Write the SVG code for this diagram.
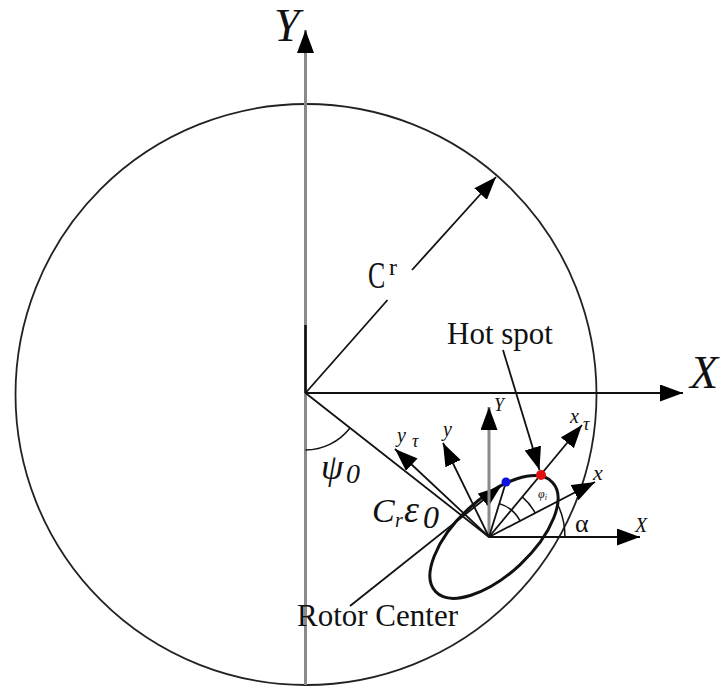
<svg xmlns="http://www.w3.org/2000/svg" width="721" height="689" viewBox="0 0 721 689">
<style>
.ln{stroke:#111;stroke-width:1.8;fill:none}
.gy{stroke:#8a8a8a;stroke-width:3;fill:none}
.th{stroke:#111;stroke-width:3;fill:none}
.arc{stroke:#111;stroke-width:1.5;fill:none}
.t{font-family:"Liberation Serif","Times New Roman",serif;fill:#111}
.i{font-style:italic}
</style>
<defs>
<marker id="ah" markerUnits="userSpaceOnUse" markerWidth="24" markerHeight="18" refX="23" refY="8.5" orient="auto">
<path d="M0,0 L23,8.5 L0,17 Z" fill="#000"/>
</marker>
</defs>
<rect width="721" height="689" fill="#fff"/>
<g id="bearing">
<circle cx="306" cy="394.5" r="290.5" fill="none" stroke="#222" stroke-width="1.8"/>
</g>
<g id="orbit">
<ellipse cx="494" cy="537" rx="80" ry="38" transform="rotate(-43 494 537)" class="th"/>
</g>
<g id="connectors">
<line class="gy" x1="305.5" y1="685" x2="305.5" y2="30" marker-end="url(#ah)"/>
<line x1="305.5" y1="325" x2="305.5" y2="393" stroke="#111" stroke-width="2.5"/>
<line class="ln" x1="305.5" y1="393" x2="683" y2="393" marker-end="url(#ah)"/>
<line class="ln" x1="305.5" y1="393" x2="387.5" y2="300"/>
<line class="ln" x1="412" y1="270" x2="496" y2="177" marker-end="url(#ah)"/>
<line class="ln" x1="305.5" y1="393" x2="489" y2="537"/>
<path class="arc" d="M305.5,450 A57,57 0 0 0 350,428"/>
<line class="ln" x1="503" y1="350" x2="539.5" y2="470" marker-end="url(#ah)"/>
<line class="ln" x1="350" y1="606" x2="501" y2="486" marker-end="url(#ah)"/>
<line class="ln" x1="489" y1="537" x2="640" y2="537" marker-end="url(#ah)"/>
<line class="gy" x1="489" y1="537" x2="489" y2="407" marker-end="url(#ah)"/>
<line class="ln" x1="489" y1="537" x2="595" y2="482" marker-end="url(#ah)"/>
<line class="ln" x1="489" y1="537" x2="582" y2="425" marker-end="url(#ah)"/>
<line class="ln" x1="489" y1="537" x2="443" y2="443" marker-end="url(#ah)"/>
<line class="ln" x1="489" y1="537" x2="395" y2="449" marker-end="url(#ah)"/>
<line class="ln" x1="489" y1="537" x2="506" y2="482"/>
<path class="arc" d="M565,537 A76,76 0 0 0 556.5,502"/>
<path class="arc" d="M499.3,503.6 A35,35 0 0 1 520.1,520.9"/>
<path class="arc" d="M522.4,497.2 A52,52 0 0 1 535.2,513.1"/>
</g>
<g id="rotor-center">
<circle cx="506" cy="482" r="4.5" fill="#1010e0"/>
</g>
<g id="hot-spot">
<circle cx="541" cy="475" r="5" fill="#e01010"/>
</g>
<g id="labels">
<text class="t i" x="274" y="41" font-size="46">Y</text>
<text class="t i" x="690" y="388" font-size="46">X</text>
<text class="t" transform="translate(368,288) scale(0.7,1)" font-size="37">C</text>
<text class="t" x="389" y="275" font-size="24">r</text>
<text class="t" x="447" y="344" font-size="31">Hot spot</text>
<text class="t" x="297" y="626" font-size="31">Rotor Center</text>
<text class="t i" font-size="36" x="321" y="479">ψ</text>
<text class="t i" font-size="28" x="346" y="483">0</text>
<text class="t i" font-size="34" x="372" y="522">C</text>
<text class="t i" font-size="20" x="395" y="527">r</text>
<text class="t i" font-size="38" x="404" y="522">ε</text>
<text class="t i" font-size="32" x="423" y="528">0</text>
<text class="t i" font-size="18" x="494" y="411">Y</text>
<text class="t i" font-size="20" x="443" y="436">y</text>
<text class="t i" font-size="20" x="397" y="442">y</text>
<text class="t i" font-size="18" x="412" y="447">τ</text>
<text class="t i" font-size="20" x="570" y="423">x</text>
<text class="t i" font-size="18" x="583" y="430">τ</text>
<text class="t i" font-size="22" x="593" y="480">x</text>
<text class="t i" font-size="20" x="635" y="532">X</text>
<text class="t" font-size="26" x="575" y="532">α</text>
<text class="t i" font-size="12" x="538" y="498">φ<tspan font-size="8" dy="2">i</tspan></text>
</g>
</svg>
